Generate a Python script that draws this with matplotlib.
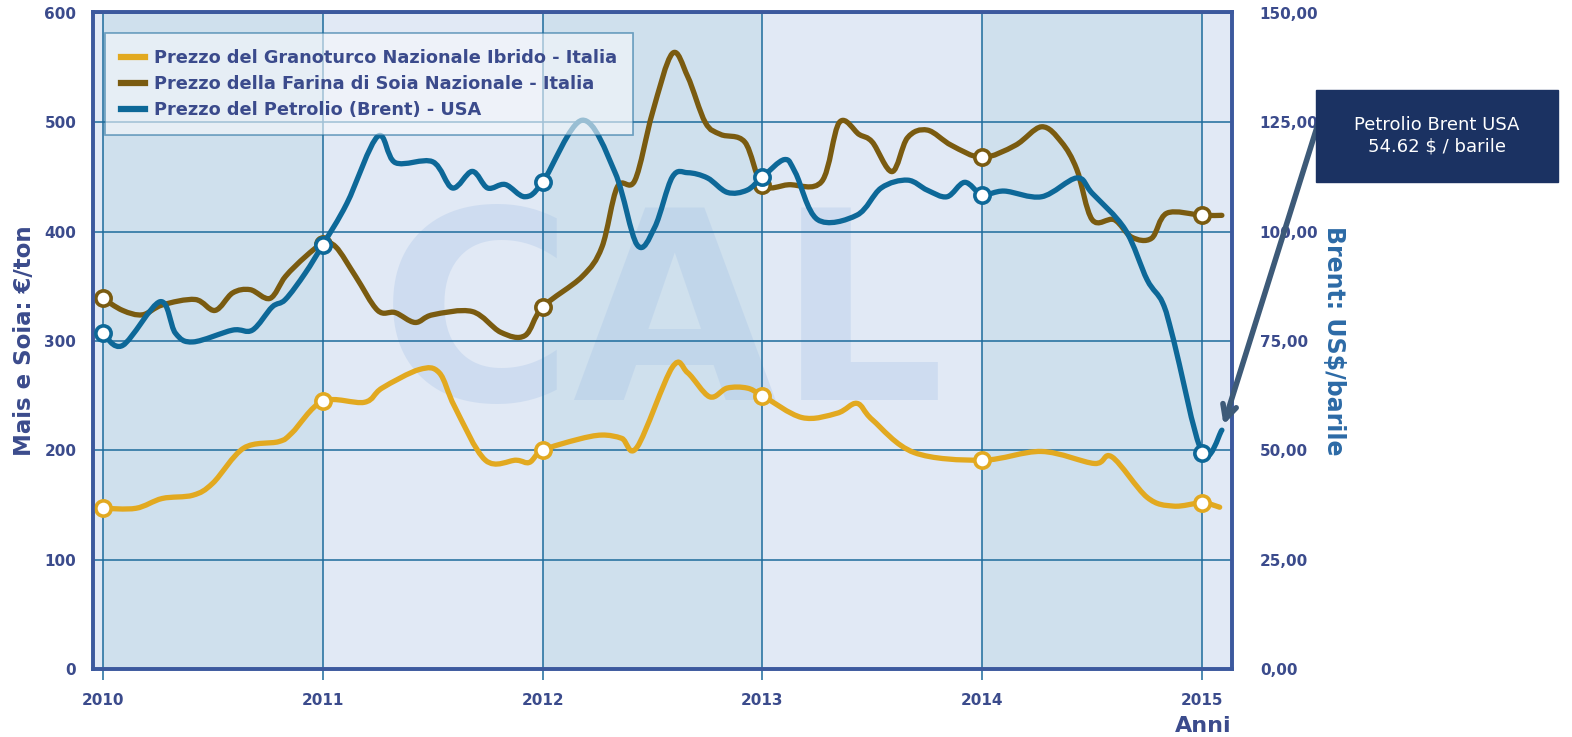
import matplotlib
matplotlib.use("Agg")
import matplotlib.pyplot as plt
import numpy as np
from matplotlib.lines import Line2D
from matplotlib.patches import Rectangle, PathPatch
from matplotlib.path import Path
from matplotlib.ticker import FuncFormatter

# Serie (anno decimale, valore)
anni_mais = [2010.0, 2010.15, 2010.27, 2010.41, 2010.5, 2010.64, 2010.8, 2010.86, 2011.0,
             2011.19, 2011.27, 2011.44, 2011.53, 2011.6, 2011.74, 2011.88, 2011.94, 2012.0,
             2012.16, 2012.27, 2012.36, 2012.43, 2012.59, 2012.66, 2012.76, 2012.84, 2012.93,
             2013.0, 2013.18, 2013.34, 2013.43, 2013.5, 2013.69, 2014.0, 2014.27, 2014.51,
             2014.59, 2014.75, 2014.87, 2015.0, 2015.08]
mais = [147, 147, 156, 159, 170, 202, 208, 216, 245,
        244, 257, 274, 271, 240, 191, 191, 189, 200,
        210, 214, 211, 203, 276, 271, 249, 257, 257,
        250, 230, 234, 243, 228, 198, 191, 199, 188,
        194, 157, 149, 152, 148]

anni_soia = [2010.0, 2010.09, 2010.18, 2010.27, 2010.42, 2010.51, 2010.59, 2010.67, 2010.76,
             2010.83, 2010.92, 2011.0, 2011.06, 2011.15, 2011.25, 2011.33, 2011.42, 2011.5,
             2011.68, 2011.81, 2011.92, 2012.0, 2012.18, 2012.27, 2012.34, 2012.42, 2012.5,
             2012.59, 2012.66, 2012.74, 2012.81, 2012.92, 2013.0, 2013.12, 2013.27, 2013.35,
             2013.44, 2013.5, 2013.59, 2013.66, 2013.75, 2013.86, 2014.0, 2014.15, 2014.27,
             2014.36, 2014.43, 2014.5, 2014.6, 2014.68, 2014.77, 2014.84, 2015.0, 2015.09]
soia = [339, 328, 324, 333, 338, 328, 344, 347, 339,
        359, 377, 389, 386, 359, 328, 326, 317, 324,
        327, 308, 305, 331, 359, 386, 441, 447, 509,
        563, 542, 500, 489, 482, 443, 443, 446, 500,
        489, 482, 455, 486, 493, 479, 468, 479, 496,
        482, 457, 411, 411, 395, 394, 417, 415, 415]

anni_brent = [2010.0, 2010.09, 2010.26, 2010.33, 2010.41, 2010.59, 2010.68, 2010.77, 2010.83,
              2010.92, 2011.0, 2011.11, 2011.25, 2011.33, 2011.5, 2011.59, 2011.68, 2011.75,
              2011.83, 2011.92, 2012.0, 2012.18, 2012.33, 2012.43, 2012.51, 2012.59, 2012.66,
              2012.75, 2012.84, 2012.93, 2013.0, 2013.1, 2013.15, 2013.25, 2013.43, 2013.54,
              2013.66, 2013.75, 2013.84, 2013.92, 2014.0, 2014.1, 2014.27, 2014.43, 2014.5,
              2014.65, 2014.75, 2014.82, 2014.87, 2015.0, 2015.09]
brent = [76.8, 74.0, 84.0, 76.8, 74.8, 77.5, 77.5, 82.8, 84.5,
         90.5, 97.0, 106.5, 121.8, 115.8, 116.0, 110.0, 113.8, 110.0,
         110.8, 108.0, 111.3, 125.5, 113.5, 97.0, 101.0, 112.5, 113.5,
         112.3, 109.0, 109.5, 112.5, 116.5, 113.5, 102.8, 103.8, 110.0,
         111.8, 109.5, 108.0, 111.3, 108.5, 109.3, 108.0, 112.3, 108.8,
         100.5, 89.0, 83.8, 75.3, 49.5, 54.62]

anni_tick = [2010, 2011, 2012, 2013, 2014, 2015]
etichette = ["Prezzo del Granoturco Nazionale Ibrido - Italia",
             "Prezzo della Farina di Soia Nazionale - Italia",
             "Prezzo del Petrolio (Brent) - USA"]

col_mais = "#e2a920"
col_soia = "#7a5b10"
col_brent = "#0d6898"
col_testo = "#3b4b8c"
col_griglia = "#1d6b9c"
col_bordo = "#3c599e"
banda_scura = "#cfe0ed"
banda_chiara = "#e1e9f5"


def curva(xs, ys):
    # curva morbida (Catmull-Rom -> Bezier) che passa per i punti letti
    p = np.column_stack([xs, ys]).astype(float)
    p = np.vstack([p[0], p, p[-1]])
    verts = [p[1]]
    codes = [Path.MOVETO]
    for i in range(1, len(p) - 2):
        c1 = p[i] + (p[i + 1] - p[i - 1]) / 6.0
        c2 = p[i + 1] - (p[i + 2] - p[i]) / 6.0
        verts += [c1, c2, p[i + 1]]
        codes += [Path.CURVE4] * 3
    return Path(verts, codes)


def disegna(a, xs, ys, colore):
    a.add_patch(PathPatch(curva(xs, ys), fill=False, edgecolor=colore, lw=3.8,
                          capstyle="round", joinstyle="round", zorder=3))
    idx = [i for i, v in enumerate(xs) if abs(v - round(v)) < 1e-6]
    a.plot([xs[i] for i in idx], [ys[i] for i in idx], ls="none", marker="o",
           markersize=11, markerfacecolor="white", markeredgecolor=colore,
           markeredgewidth=2.6, zorder=4)


fig = plt.figure(figsize=(15.72, 7.37), dpi=100)
ax = fig.add_axes([93 / 1572, 1 - 669 / 737, 1139 / 1572, 657 / 737])
ax2 = ax.twinx()

x0, x1 = 2009.955, 2015.136
ax.set_xlim(x0, x1)
ax.set_ylim(0, 601)
ax2.set_xlim(x0, x1)
ax2.set_ylim(0, 150.25)

# bande annuali alternate
bordi = [x0] + anni_tick + [x1]
for i in range(len(bordi) - 1):
    c = banda_scura if i % 2 == 1 else banda_chiara
    ax.axvspan(bordi[i], bordi[i + 1], color=c, zorder=0, lw=0)

# filigrana
ax.text(0.5, 0.52, "CAL", transform=ax.transAxes, ha="center", va="center",
        fontsize=190, fontweight="bold", color="#a3c0e6", alpha=0.3, zorder=0.5)

ax.set_xticks(anni_tick)
ax.set_yticks(range(0, 601, 100))
ax2.set_yticks([0, 25, 50, 75, 100, 125, 150])
ax.grid(True, color=col_griglia, lw=1.1)
ax.set_axisbelow("line")


def fmt(v, pos):
    return ("%.2f" % v).replace(".", ",")


ax2.yaxis.set_major_formatter(FuncFormatter(fmt))

disegna(ax, anni_mais, mais, col_mais)
disegna(ax, anni_soia, soia, col_soia)
disegna(ax2, anni_brent, brent, col_brent)

for a in (ax, ax2):
    for s in a.spines.values():
        s.set_color(col_bordo)
        s.set_linewidth(2.6)

ax.tick_params(axis="x", length=8, width=1.1, color=col_griglia, pad=9)
ax.tick_params(axis="y", length=0, pad=12)
ax2.tick_params(axis="y", length=0, pad=20)
for lab in ax.get_yticklabels() + ax2.get_yticklabels():
    lab.set_fontsize(11)
    lab.set_fontweight("bold")
    lab.set_color(col_testo)
for lab in ax.get_xticklabels():
    lab.set_fontsize(11)
    lab.set_fontweight("bold")
    lab.set_color(col_testo)
    lab.set_family(["Liberation Sans Narrow", "DejaVu Sans"])

ax.set_ylabel("Mais e Soia: €/ton", fontsize=16.5, fontweight="bold", color=col_testo,
              labelpad=6)
ax2.set_ylabel("Brent: US$/barile", fontsize=17, fontweight="bold", color="#2c6aa6",
               rotation=-90, labelpad=20)
ax.text(1.0, -0.087, "Anni", transform=ax.transAxes, ha="right", va="center",
        fontsize=16, fontweight="bold", color=col_testo)

maniglie = [Line2D([], [], color=col_mais, lw=4.5),
            Line2D([], [], color=col_soia, lw=4.5),
            Line2D([], [], color=col_brent, lw=4.5)]
leg = ax2.legend(maniglie, etichette, loc="upper left", bbox_to_anchor=(0.0105, 0.968),
                 prop={"size": 12.8, "weight": "bold"}, frameon=True, fancybox=False,
                 framealpha=0.6, handlelength=1.35, handletextpad=0.5, borderpad=0.9,
                 labelspacing=0.45, borderaxespad=0)
leg.get_frame().set_edgecolor(col_griglia)
leg.get_frame().set_linewidth(1.2)
leg.get_frame().set_facecolor("#f7f9fc")
for t in leg.get_texts():
    t.set_color(col_testo)

# box annotazione
fig.patches.append(Rectangle((1316 / 1572, 1 - 182 / 737), 242 / 1572, 92 / 737,
                             transform=fig.transFigure, color="#1b3262", zorder=5))
fig.text(1437 / 1572, 1 - 136 / 737, "Petrolio Brent USA\n54.62 $ / barile",
         ha="center", va="center", color="white", fontsize=13, linespacing=1.25, zorder=6)
ax2.annotate("", xy=(anni_brent[-1], brent[-1]), xycoords="data",
             xytext=(1318 / 1572, 1 - 124 / 737), textcoords="figure fraction",
             arrowprops=dict(arrowstyle="->,head_length=1.0,head_width=0.5",
                             color="#3d5a78", lw=4, shrinkA=0, shrinkB=4),
             annotation_clip=False, zorder=6)

fig.savefig("out.png", dpi=100)
